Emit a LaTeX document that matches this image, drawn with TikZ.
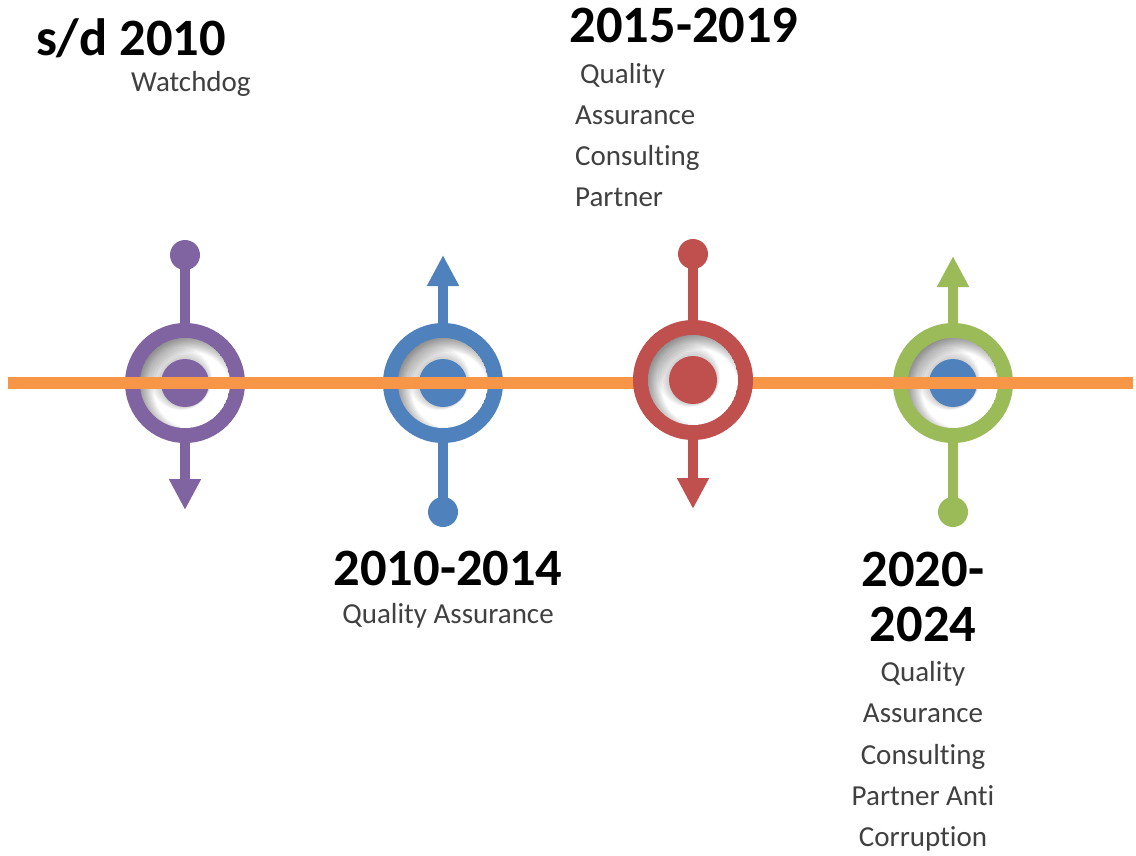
\documentclass[tikz,border=0pt]{standalone}
\usepackage{fontspec}
\setmainfont{Carlito}[Ligatures={NoCommon,NoContextual}]
\usetikzlibrary{calc,arrows.meta}
\definecolor{cpurple}{HTML}{8064A2}
\definecolor{cblue}{HTML}{4F81BD}
\definecolor{cred}{HTML}{C0504D}
\definecolor{cgreen}{HTML}{9BBB59}
\definecolor{corange}{HTML}{F79646}
\definecolor{ctext}{HTML}{404040}
\newcommand\ringmark[3]{%
  \fill[#2] (#1) circle (60);
  \begin{scope}
    \clip (#1) circle (45);
    \fill[white] (#1) circle (45);
    \foreach \r in {38,...,55}
      \fill[black, opacity=0.032, even odd rule] ($(#1)+(-70,-70)$) rectangle ($(#1)+(70,70)$) ($(#1)+(7,7)$) circle (\r);
    \foreach \k in {1,...,5} \fill[black,opacity=0.035] ($(#1)+(-\k*0.8,-\k*0.8)$) circle ({24+\k*1.4});
  \end{scope}
  \fill[#3] (#1) circle (24);
}
\begin{document}
\begin{tikzpicture}[x=1pt,y=-1pt,
  title/.style={font=\fontsize{52.5}{55}\selectfont\bfseries, text=black, inner sep=0pt, anchor=base},
  body/.style={font=\fontsize{29}{40}\selectfont, text=ctext, inner sep=0pt, anchor=base},
  stem/.style={line width=10pt},
  tip/.style={-{Triangle[width=30pt,length=31pt]}},
  enddot/.style={fill, circle, inner sep=0pt, minimum size=30pt},
]
\useasboundingbox (0,0) rectangle (1136,855);

% centres
\coordinate (P) at (185,383);
\coordinate (B) at (443,383);
\coordinate (R) at (693,380);
\coordinate (G) at (953,383);
\coordinate (Lleft) at (8,383);
\coordinate (Lright) at (1133,383);

% end points
\node[enddot, cpurple] (Pdot) at (185,255) {};
\coordinate (Ptip) at (185,510);
\coordinate (Btip) at (443,255);
\node[enddot, cblue] (Bdot) at (443,512) {};
\node[enddot, cred] (Rdot) at (693,254) {};
\coordinate (Rtip) at (693,509);
\coordinate (Gtip) at (953,256);
\node[enddot, cgreen] (Gdot) at (953,512) {};

% purple
\draw[stem, cpurple] (Pdot.center) -- (P);
\draw[stem, cpurple, tip] (P) -- (Ptip);
\ringmark{P}{cpurple}{cpurple}
% blue
\draw[stem, cblue, tip] (B) -- (Btip);
\draw[stem, cblue] (B) -- (Bdot.center);
\ringmark{B}{cblue}{cblue}
% green
\draw[stem, cgreen, tip] (G) -- (Gtip);
\draw[stem, cgreen] (G) -- (Gdot.center);
\ringmark{G}{cgreen}{cblue}

% timeline
\draw[line width=12pt, corange] (Lleft) -- (Lright);

% red (on top of the line)
\draw[stem, cred] (Rdot.center) -- (R);
\draw[stem, cred, tip] (R) -- (Rtip);
\ringmark{R}{cred}{cred}

% texts
\node[title] (t1) at (131,55) {s/d 2010};
\node[body, anchor=base west] (b1) at (131,91) {Watchdog};

\node[title] (t2) at (448,585) {2010-2014};
\node[body] (b2) at (448,623) {Quality Assurance};

\node[title] (t3) at (684,42) {2015-2019};
\node[body, anchor=base west] (b3a) at (580,83) {Quality};
\node[body, anchor=base west] (b3b) at (575,124) {Assurance};
\node[body, anchor=base west] (b3c) at (575,165) {Consulting};
\node[body, anchor=base west] (b3d) at (575,206) {Partner};

\node[title] (t4a) at (923,586) {2020-};
\node[title] (t4b) at (923,641) {2024};
\node[body] (b4a) at (923,681) {Quality};
\node[body] (b4b) at (923,722) {Assurance};
\node[body] (b4c) at (923,764) {Consulting};
\node[body] (b4d) at (923,805) {Partner Anti};
\node[body] (b4e) at (923,846) {Corruption};
\end{tikzpicture}
\end{document}
